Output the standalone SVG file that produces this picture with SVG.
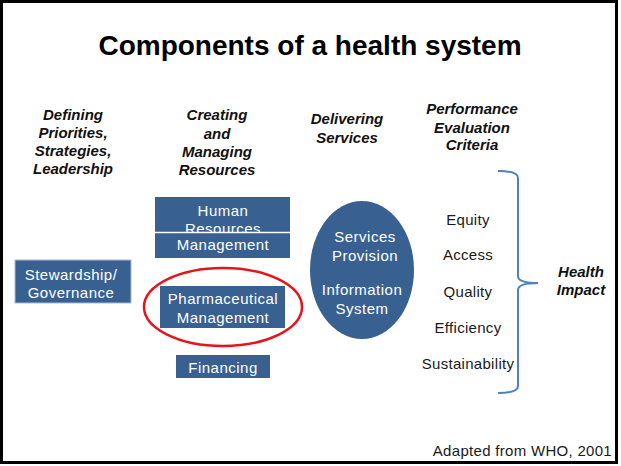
<svg xmlns="http://www.w3.org/2000/svg" width="621" height="466" viewBox="0 0 621 466">
<style>
.hdr{font-family:"Liberation Sans",Arial,sans-serif;font-size:15px;font-weight:bold;font-style:italic;fill:#111;text-anchor:middle}
.wt{font-family:"Liberation Sans",Arial,sans-serif;font-size:15px;fill:#fff;text-anchor:middle;letter-spacing:0.5px}
.dk{font-family:"Liberation Sans",Arial,sans-serif;font-size:15px;fill:#1a1a1a;text-anchor:middle;letter-spacing:0.3px}
.box{fill:#386192}
</style>
<rect x="0" y="0" width="621" height="466" fill="#fff"/>
<rect x="1.5" y="1.5" width="615" height="461" fill="none" stroke="#000" stroke-width="3"/>
<text x="310" y="55" font-family="Liberation Sans,Arial,sans-serif" font-size="28" font-weight="bold" text-anchor="middle" fill="#000">Components of a health system</text>
<g id="headers">
<text class="hdr" x="73" y="120">Defining</text>
<text class="hdr" x="73" y="138">Priorities,</text>
<text class="hdr" x="73" y="156">Strategies,</text>
<text class="hdr" x="73" y="174">Leadership</text>
<text class="hdr" x="217" y="120">Creating</text>
<text class="hdr" x="217" y="139">and</text>
<text class="hdr" x="217" y="157">Managing</text>
<text class="hdr" x="217" y="175">Resources</text>
<text class="hdr" x="347" y="124">Delivering</text>
<text class="hdr" x="347" y="143">Services</text>
<text class="hdr" x="472" y="114">Performance</text>
<text class="hdr" x="472" y="133">Evaluation</text>
<text class="hdr" x="472" y="150">Criteria</text>
</g>
<g id="stewardship">
<rect class="box" x="15" y="260" width="116" height="43" stroke="#a9bcd6" stroke-width="1"/>
<text class="wt" x="71" y="280">Stewardship/</text>
<text class="wt" x="71" y="298">Governance</text>
</g>
<g id="human-resources">
<rect class="box" x="155" y="197" width="135" height="36"/>
<text class="wt" x="223" y="216">Human</text>
<text class="wt" x="223" y="234">Resources</text>
<rect class="box" x="155" y="233" width="135" height="25"/>
<line x1="155" y1="232.5" x2="290" y2="232.5" stroke="#fff" stroke-width="1.5"/>
<text class="wt" x="223" y="250">Management</text>
</g>
<g id="pharmaceutical">
<rect class="box" x="160" y="286" width="125" height="42"/>
<text class="wt" x="223" y="304">Pharmaceutical</text>
<text class="wt" x="223" y="323">Management</text>
<ellipse cx="223" cy="307" rx="79" ry="39" fill="none" stroke="#e8141b" stroke-width="2.5"/>
</g>
<g id="financing">
<rect class="box" x="176" y="355" width="94" height="23"/>
<text class="wt" x="223" y="373">Financing</text>
</g>
<g id="services">
<ellipse cx="362" cy="270" rx="52" ry="69" fill="#386192"/>
<text class="wt" x="365" y="242">Services</text>
<text class="wt" x="365" y="261">Provision</text>
<text class="wt" x="362" y="295">Information</text>
<text class="wt" x="362" y="314">System</text>
</g>
<g id="criteria">
<text class="dk" x="468" y="225">Equity</text>
<text class="dk" x="468" y="260">Access</text>
<text class="dk" x="468" y="297">Quality</text>
<text class="dk" x="468" y="333">Efficiency</text>
<text class="dk" x="468" y="369">Sustainability</text>
</g>
<g id="connectors">
<path d="M498,171 Q518,171 518,178 L518,276 Q518,283 538,283 Q518,283 518,290 L518,386 Q518,393 498,393" fill="none" stroke="#4f81bd" stroke-width="2"/>
</g>
<g id="health-impact">
<text class="hdr" x="581" y="277">Health</text>
<text class="hdr" x="581" y="295">Impact</text>
</g>
<text x="612" y="456" font-family="Liberation Sans,Arial,sans-serif" font-size="15" letter-spacing="0.3" text-anchor="end" fill="#1a1a1a">Adapted from WHO, 2001</text>
</svg>
